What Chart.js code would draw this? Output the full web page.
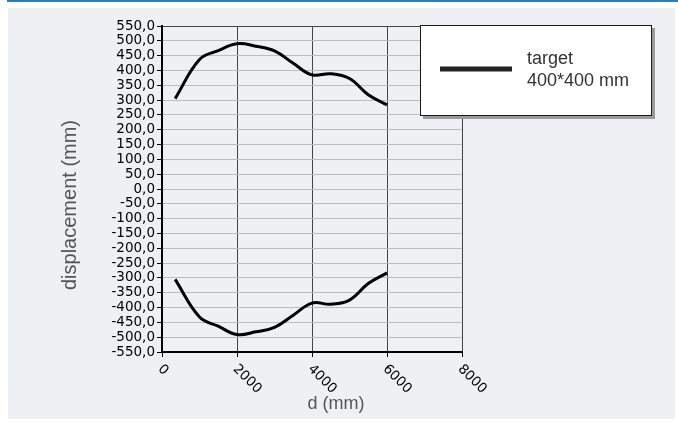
<!DOCTYPE html>
<html>
<head>
<meta charset="utf-8">
<script src="https://cdn.jsdelivr.net/npm/chart.js@4.4.1/dist/chart.umd.min.js"></script>
<style>
html, body { margin: 0; padding: 0; background: #fff; }
#wrap { width: 678px; height: 423px; position: relative; }
</style>
</head>
<body>
<div id="wrap"><canvas id="grafica"></canvas></div>
<script>
// datos
const distancias = [350, 1000, 1500, 2000, 2500, 3000, 3500, 4000, 4500, 5000, 5500, 6000];
const superior = [305, 437, 467, 490, 482, 466, 424, 385, 389, 373, 318, 284];
const inferior = [-305, -432, -463, -491, -482, -467, -426, -385, -389, -375, -319, -283];
const leyenda = ['target', '400*400 mm'];
const tituloX = 'd (mm)';
const tituloY = 'displacement (mm)';

const puntos = (ys) => distancias.map((d, i) => ({ x: d, y: ys[i] }));

// fondo gris y linea azul de arriba
const fondo = {
    id: 'fondo',
    beforeDraw(chart) {
        const c = chart.ctx;
        c.save();
        c.fillStyle = '#ffffff';
        c.fillRect(0, 0, chart.width, chart.height);
        c.fillStyle = '#eff0f1';
        c.fillRect(8, 8, 667, 411);
        c.fillStyle = '#1b82cf';
        c.fillRect(7, 0, 671, 2);
        c.restore();
    }
};

// etiquetas del eje x giradas, titulos y cuadro de leyenda
const extras = {
    id: 'extras',
    afterDraw(chart) {
        const c = chart.ctx;
        const sx = chart.scales.x;
        const fondoEje = chart.chartArea.bottom;
        c.save();
        c.fillStyle = '#000';
        c.font = '13.5px "DejaVu Sans"';
        c.textAlign = 'left';
        c.textBaseline = 'middle';
        sx.ticks.forEach(t => {
            const px = sx.getPixelForValue(t.value);
            c.save();
            c.translate(px - 2, fondoEje + 15);
            c.rotate(Math.PI / 4);
            c.fillText(String(t.value), 0, 0);
            c.restore();
        });

        c.fillStyle = '#555';
        c.font = '18px "Liberation Sans", Arial, sans-serif';
        c.textAlign = 'center';
        c.textBaseline = 'middle';
        c.fillText(tituloX, 336, 404);
        c.save();
        c.translate(70, 205);
        c.rotate(-Math.PI / 2);
        c.font = '20px "Liberation Sans", Arial, sans-serif';
        c.fillText(tituloY, 0, 0);
        c.restore();

        // leyenda
        c.fillStyle = '#9a9a9a';
        c.fillRect(423, 28, 232, 91);
        c.fillStyle = '#ffffff';
        c.fillRect(420, 25, 232, 91);
        c.strokeStyle = '#1a1a1a';
        c.lineWidth = 1;
        c.strokeRect(420.5, 25.5, 231, 90);
        c.strokeStyle = '#222';
        c.lineWidth = 5;
        c.beginPath();
        c.moveTo(440, 69);
        c.lineTo(512, 69);
        c.stroke();
        c.fillStyle = '#333';
        c.font = '18px "Liberation Sans", Arial, sans-serif';
        c.textAlign = 'left';
        c.textBaseline = 'alphabetic';
        c.fillText(leyenda[0], 527, 64);
        c.fillText(leyenda[1], 527, 86);
        c.restore();
    }
};

const ctx = document.getElementById('grafica').getContext('2d');
const grafica = new Chart(ctx, {
    type: 'line',
    data: {
        datasets: [
            { label: leyenda.join(' '), data: puntos(superior), borderColor: '#000', borderWidth: 3, tension: 0.4, pointRadius: 0, fill: false },
            { label: leyenda.join(' '), data: puntos(inferior), borderColor: '#000', borderWidth: 3, tension: 0.4, pointRadius: 0, fill: false }
        ]
    },
    options: {
        responsive: true,
        maintainAspectRatio: false,
        animation: false,
        layout: { padding: { left: 0, top: 26, right: 216, bottom: 0 } },
        scales: {
            x: {
                type: 'linear',
                min: 0,
                max: 8000,
                ticks: { stepSize: 2000, display: false },
                grid: {
                    color: (g) => (g.tick && g.tick.value === 0 ? 'rgba(0,0,0,0)' : '#444'),
                    lineWidth: 1,
                    tickLength: 5,
                    tickColor: '#000'
                },
                border: { color: '#000', width: 2 },
                afterFit: (s) => { s.height = 71; }
            },
            y: {
                type: 'linear',
                min: -550,
                max: 550,
                ticks: {
                    stepSize: 50,
                    autoSkip: false,
                    color: '#000',
                    padding: 2,
                    font: { family: 'DejaVu Sans', size: 13.5 },
                    callback: (v) => v.toFixed(1).replace('.', ',')
                },
                grid: {
                    color: (g) => (g.tick && g.tick.value === 550 ? '#444' : '#bdbdbd'),
                    lineWidth: 1,
                    tickLength: 5,
                    tickColor: '#000'
                },
                border: { color: '#000', width: 2 },
                afterFit: (s) => { s.width = 162; }
            }
        },
        plugins: {
            legend: { display: false },
            tooltip: { enabled: false }
        }
    },
    plugins: [fondo, extras]
});
</script>
</body>
</html>
